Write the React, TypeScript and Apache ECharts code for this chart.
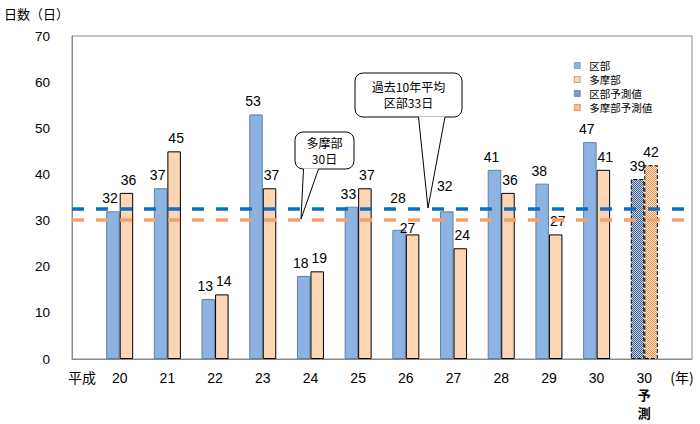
import React, { useEffect, useRef } from "react";
import * as echarts from "echarts";

// ---- data ----
const years: string[] = ["20", "21", "22", "23", "24", "25", "26", "27", "28", "29", "30"];
const forecastCategory = "30予測";
const kubu: number[] = [32, 37, 13, 53, 18, 33, 28, 32, 41, 38, 47];
const tama: number[] = [36, 45, 14, 37, 19, 37, 27, 24, 36, 27, 41];
const kubuForecast: number[] = [39];
const tamaForecast: number[] = [42];
const kubuAvg = 32.5;
const tamaAvg = 30.2;
const yMin = 0;
const yMax = 70;
const yInterval = 10;

// label nudges (style only), keyed by year
const kubuLabelNudge: Record<string, [number, number]> = { "26": [2, -19], "27": [1, -12] };
const tamaLabelNudge: Record<string, [number, number]> = { "26": [-7, 7] };

const categories: string[] = ["", ...years, forecastCategory, ""];

const NUM_FONT = "'Liberation Sans', Arial, 'Noto Sans CJK JP', sans-serif";
const JP_FONT = "'Noto Sans CJK JP', 'Liberation Sans', sans-serif";

const BLUE = "#8DB3E2";
const BLUE_BORDER = "#5F7FA8";
const ORANGE = "#FCD5B5";

const barLabel = {
  show: true,
  position: "top" as const,
  distance: 6,
  color: "#000",
  fontSize: 14,
  fontFamily: NUM_FONT,
};

function makeChecker(c1: string, c2: string): HTMLCanvasElement {
  const cv = document.createElement("canvas");
  cv.width = 2;
  cv.height = 2;
  const ctx = cv.getContext("2d")!;
  ctx.fillStyle = c2;
  ctx.fillRect(0, 0, 2, 2);
  ctx.fillStyle = c1;
  ctx.fillRect(0, 0, 1, 1);
  ctx.fillRect(1, 1, 1, 1);
  return cv;
}

export default function App() {
  const ref = useRef<HTMLDivElement>(null);
  useEffect(() => {
    if (!ref.current) return;
    const chart = echarts.init(ref.current, undefined, { renderer: "svg" });
    const BW = 13.5;
    const bluePattern = { image: makeChecker("#3E5C8C", "#C9D4E5"), repeat: "repeat" };
    const orangePattern = { image: makeChecker("#F3893A", "#FFF6EE"), repeat: "repeat" };

    const buildSeries = (vals: number[], nudge: Record<string, [number, number]>, base: [number, number]) => [
      "-",
      ...vals.map((v, i) => {
        const n = nudge[years[i]];
        return n ? { value: v, label: { offset: [base[0] + n[0], base[1] + n[1]] } } : v;
      }),
      "-",
      "-",
    ];
    const kubuData = buildSeries(kubu, kubuLabelNudge, [-3, 0]);
    const tamaData = buildSeries(tama, tamaLabelNudge, [2, 0]);
    const pad = years.map(() => "-");
    const kubuFData = ["-", ...pad, ...kubuForecast, "-"];
    const tamaFData = ["-", ...pad, ...tamaForecast, "-"];

    chart.setOption({
      animation: false,
      backgroundColor: "#fff",
      grid: {
        left: 72,
        right: 8,
        top: 36,
        bottom: 65,
        show: true,
        borderColor: "#8a8a8a",
        borderWidth: 1,
        containLabel: false,
      },
      legend: {
        orient: "vertical",
        left: 574,
        top: 59,
        padding: 0,
        itemWidth: 6,
        itemHeight: 6,
        itemGap: 1,
        icon: "rect",
        selectedMode: false,
        textStyle: {
          fontSize: 10.5,
          fontFamily: JP_FONT,
          color: "#000",
          lineHeight: 13,
          padding: [0, 0, 0, 4],
        },
        data: [
          { name: "区部", itemStyle: { color: BLUE, borderColor: BLUE_BORDER, borderWidth: 0.6 } },
          { name: "多摩部", itemStyle: { color: ORANGE, borderColor: "#9a7a60", borderWidth: 0.6 } },
          {
            name: "区部予測値",
            itemStyle: { color: bluePattern, borderColor: "#4F6E9E", borderWidth: 0.6, borderType: "solid" },
          },
          {
            name: "多摩部予測値",
            itemStyle: { color: orangePattern, borderColor: "#C07040", borderWidth: 0.6, borderType: "solid" },
          },
        ],
      },
      xAxis: {
        type: "category",
        data: categories,
        boundaryGap: false,
        axisLine: { show: true, lineStyle: { color: "#8a8a8a", width: 1 } },
        axisTick: { show: false },
        splitLine: { show: false },
        axisLabel: {
          interval: 0,
          margin: 11,
          fontSize: 14,
          color: "#000",
          fontFamily: NUM_FONT,
          lineHeight: 16,
          formatter: (v: string) =>
            v === forecastCategory ? `${v.slice(0, 2)}\n{b|${v.slice(2, 3)}}\n{b|${v.slice(3, 4)}}` : v,
          rich: {
            b: { fontSize: 13, fontWeight: "bold", fontFamily: JP_FONT, color: "#000", lineHeight: 17.5 },
          },
        },
      },
      yAxis: {
        type: "value",
        min: yMin,
        max: yMax,
        interval: yInterval,
        axisLine: { show: true, lineStyle: { color: "#8a8a8a", width: 1 } },
        axisTick: { show: false },
        splitLine: { show: false },
        axisLabel: { margin: 22, fontSize: 13.5, color: "#000", fontFamily: NUM_FONT },
      },
      series: [
        {
          name: "区部",
          type: "bar",
          stack: "ku",
          barWidth: BW,
          barGap: 0,
          data: kubuData,
          itemStyle: { color: BLUE, borderColor: BLUE_BORDER, borderWidth: 1 },
          label: { ...barLabel, offset: [-3, 0] },
          markLine: {
            silent: true,
            symbol: "none",
            label: { show: false },
            lineStyle: { color: "#0B6FC6", width: 3.5, type: [12, 12], cap: "butt" },
            data: [{ yAxis: kubuAvg }],
          },
        },
        {
          name: "多摩部",
          type: "bar",
          stack: "ta",
          barWidth: BW,
          barGap: 0,
          data: tamaData,
          itemStyle: { color: ORANGE, borderColor: "#000", borderWidth: 1 },
          label: { ...barLabel, offset: [2, 0] },
          markLine: {
            silent: true,
            symbol: "none",
            label: { show: false },
            lineStyle: { color: "#F5A06C", width: 3.5, type: [12, 12], cap: "butt" },
            data: [{ yAxis: tamaAvg }],
          },
        },
        {
          name: "区部予測値",
          type: "bar",
          stack: "ku",
          barWidth: BW,
          barGap: 0,
          data: kubuFData,
          itemStyle: {
            color: bluePattern,
            borderColor: "#000",
            borderWidth: 1,
            borderType: "dashed",
          },
          label: barLabel,
        },
        {
          name: "多摩部予測値",
          type: "bar",
          stack: "ta",
          barWidth: BW,
          barGap: 0,
          data: tamaFData,
          itemStyle: {
            color: orangePattern,
            borderColor: "#000",
            borderWidth: 1,
            borderType: "dashed",
          },
          label: barLabel,
        },
      ],
      graphic: [
        {
          type: "text",
          x: 4,
          y: 7,
          z: 100,
          style: { text: "日数（日）", fontSize: 13, fontFamily: JP_FONT, fill: "#000" },
        },
        {
          type: "text",
          x: 82,
          y: 370,
          z: 100,
          style: { text: "平成", fontSize: 14, fontFamily: JP_FONT, fill: "#000", align: "center" },
        },
        {
          type: "text",
          x: 682,
          y: 370,
          z: 100,
          style: { text: "(年)", fontSize: 14, fontFamily: JP_FONT, fill: "#000", align: "center" },
        },
        // callout: 多摩部 30日
        {
          type: "group",
          z: 100,
          children: [
            {
              type: "rect",
              z: 100,
              shape: { x: 295, y: 132, width: 59, height: 37, r: 8 },
              style: { fill: "#fff", stroke: "#000", lineWidth: 1 },
            },
            {
              type: "polygon",
              z: 101,
              shape: { points: [[303.5, 168.4], [301, 219], [318.5, 168.4]] },
              style: { fill: "#fff", stroke: null },
            },
            {
              type: "polyline",
              z: 102,
              shape: { points: [[303.5, 169], [301, 219], [318.5, 169]] },
              style: { fill: null, stroke: "#000", lineWidth: 1 },
            },
            {
              type: "text",
              z: 103,
              x: 324.5,
              y: 150.5,
              style: {
                text: "多摩部\n30日",
                fontSize: 12,
                lineHeight: 16,
                fontFamily: JP_FONT,
                fill: "#000",
                align: "center",
                verticalAlign: "middle",
              },
            },
          ],
        },
        // callout: 過去10年平均 区部33日
        {
          type: "group",
          z: 100,
          children: [
            {
              type: "rect",
              z: 100,
              shape: { x: 355, y: 73, width: 107, height: 44, r: 8 },
              style: { fill: "#fff", stroke: "#000", lineWidth: 1 },
            },
            {
              type: "polygon",
              z: 101,
              shape: { points: [[418.5, 116.4], [428, 208], [445, 116.4]] },
              style: { fill: "#fff", stroke: null },
            },
            {
              type: "polyline",
              z: 102,
              shape: { points: [[418.5, 117], [428, 208], [445, 117]] },
              style: { fill: null, stroke: "#000", lineWidth: 1 },
            },
            {
              type: "text",
              z: 103,
              x: 408.5,
              y: 94,
              style: {
                text: "過去10年平均\n区部33日",
                fontSize: 12,
                lineHeight: 16,
                fontFamily: JP_FONT,
                fill: "#000",
                align: "center",
                verticalAlign: "middle",
              },
            },
          ],
        },
      ],
    });
    return () => chart.dispose();
  }, []);
  return <div ref={ref} style={{ width: 700, height: 424, position: "absolute", left: 0, top: 0 }} />;
}
